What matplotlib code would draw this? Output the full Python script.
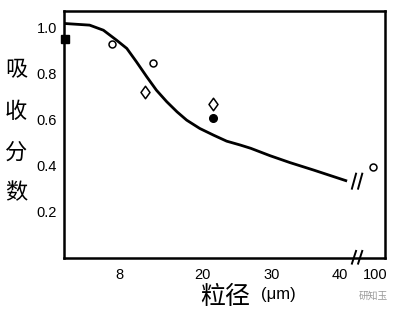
import matplotlib
matplotlib.use("Agg")
import matplotlib.pyplot as plt
from matplotlib.path import Path

# fitted curve (particle size in um, absorbed fraction)
curve_x = [0, 3.6, 5.6, 7.5, 9.0, 10.4, 11.9, 13.3, 14.8, 16.3, 17.7, 19.6, 21.6, 23.5, 25.5,
           27.0, 29.8, 32.7, 36.1, 41.0]
curve_y = [1.016, 1.009, 0.987, 0.944, 0.908, 0.850, 0.785, 0.727, 0.677, 0.633, 0.597, 0.561,
           0.532, 0.506, 0.489, 0.475, 0.443, 0.413, 0.381, 0.333]

# measured points; 100 um sits after the axis break at position 44.8
square_x, square_y = [0], [0.951]
circle_x, circle_y = [6.8, 12.75, 44.8], [0.929, 0.843, 0.394]
diamond_x, diamond_y = [11.6, 21.5], [0.717, 0.665]
dot_x, dot_y = [21.5], [0.605]

xtick_pos = [8, 20, 30, 40, 45.1]
xtick_labels = ["8", "20", "30", "40", "100"]
ytick_pos = [0.2, 0.4, 0.6, 0.8, 1.0]
ytick_labels = ["0.2", "0.4", "0.6", "0.8", "1.0"]

NUM_FONT = ["Liberation Sans Narrow", "Liberation Sans", "DejaVu Sans"]
CJK_FONT = ["Noto Sans CJK SC", "DejaVu Sans"]

# slightly tall diamond, like the printed symbol
tall_diamond = Path([(0, 1), (0.72, 0), (0, -1), (-0.72, 0), (0, 1)],
                    [Path.MOVETO, Path.LINETO, Path.LINETO, Path.LINETO, Path.CLOSEPOLY])

fig = plt.figure(figsize=(4.01, 3.16), dpi=100)
ax = fig.add_axes([0.160, 0.184, 0.800, 0.781])

ax.plot(curve_x, curve_y, color="black", linewidth=2.0, solid_capstyle="butt")
ax.plot(square_x, square_y, "s", color="black", markersize=5.5, clip_on=False, zorder=5)
ax.plot(circle_x, circle_y, "o", mfc="white", mec="black", mew=1.1, markersize=5)
ax.plot(diamond_x, diamond_y, marker=tall_diamond, ls="none", mfc="white", mec="black",
        mew=1.1, markersize=9)
ax.plot(dot_x, dot_y, "o", color="black", markersize=5.5)

# axis break marks
for dx in (0, 0.9):
    ax.plot([41.7 + dx, 42.3 + dx], [0.300, 0.365], color="black", lw=1.4, clip_on=False)
    ax.plot([41.7 + dx, 42.3 + dx], [-0.025, 0.030], color="black", lw=1.4, clip_on=False)

ax.set_xlim(-0.1, 46.5)
ax.set_ylim(0, 1.07)

ax.set_xticks(xtick_pos)
ax.set_xticklabels(xtick_labels, family=NUM_FONT, fontsize=10.5)
ax.set_yticks(ytick_pos)
ax.set_yticklabels(ytick_labels, family=NUM_FONT, fontsize=10.5)
ax.tick_params(axis="both", length=0)
ax.tick_params(axis="x", pad=7)
ax.tick_params(axis="y", pad=5)

for s in ax.spines.values():
    s.set_linewidth(1.8)

# y label, stacked characters
for i, ch in enumerate("吸收分数"):
    fig.text(0.040, 1 - (70 + i * 41) / 316, ch, family=CJK_FONT, fontsize=16,
             ha="center", va="center")

fig.text(0.562, 1 - 297 / 316, "粒径", family=CJK_FONT, fontsize=18, ha="center", va="center")
fig.text(0.695, 1 - 295 / 316, "(μm)", family=NUM_FONT, fontsize=12, ha="center", va="center")
fig.text(0.93, 1 - 296 / 316, "研知玉", family=CJK_FONT, fontsize=7, color="#9a9a9a",
         ha="center", va="center")

fig.savefig("out.png", dpi=100)
